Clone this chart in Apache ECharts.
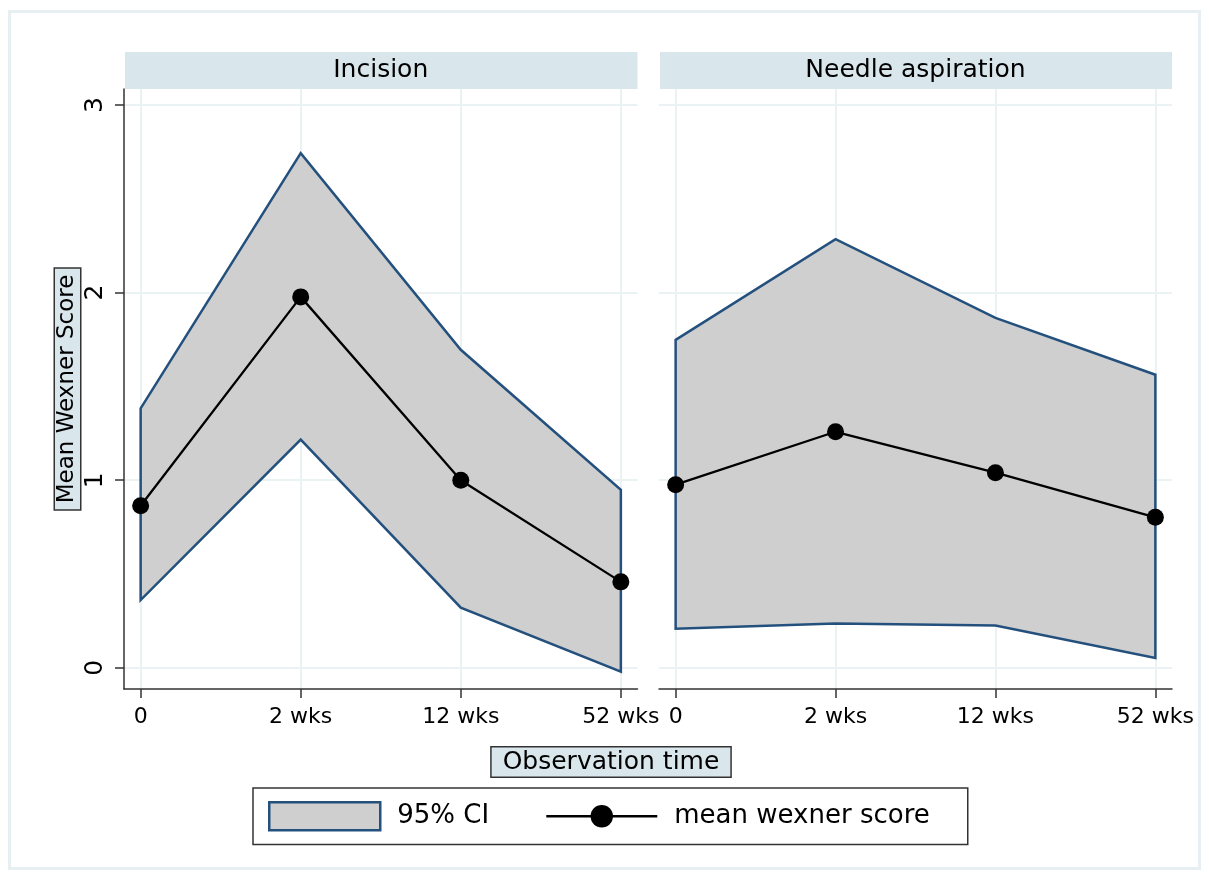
<!DOCTYPE html>
<html>
<head>
<meta charset="utf-8">
<script src="https://cdn.jsdelivr.net/npm/echarts@6/dist/echarts.min.js"></script>
<style>
  html, body { margin: 0; padding: 0; background: #ffffff; }
  #chart { width: 1209px; height: 878px; }
</style>
</head>
<body>
<div id="chart"></div>
<script>
// Observation times and panel titles
const timeLabels = ['0', '2 wks', '12 wks', '52 wks'];
const panelTitles = ['Incision', 'Needle aspiration'];
const yTicks = [0, 1, 2, 3];
const xTicks = [0, 1, 2, 3];

// Mean Wexner score with 95% confidence limits, per treatment group
const incisionMean  = [0.864, 1.977, 1.000, 0.458];
const incisionUpper = [1.383, 2.743, 1.695, 0.949];
const incisionLower = [0.361, 1.216, 0.321, -0.021];

const needleMean  = [0.976, 1.258, 1.040, 0.802];
const needleUpper = [1.748, 2.285, 1.865, 1.562];
const needleLower = [0.208, 0.236, 0.225, 0.053];

const FONT = 'DejaVu Sans';
const AXIS_COLOR = '#333333';
const GRID_COLOR = '#eaf2f3';
const STRIP_COLOR = '#d9e6eb';
const BAND_FILL = '#cfcfcf';
const BAND_EDGE = '#24507d';

const panels = [
  { mean: incisionMean, upper: incisionUpper, lower: incisionLower, left: 124, width: 513.5 },
  { mean: needleMean, upper: needleUpper, lower: needleLower, left: 659, width: 513 }
];

const GRID_TOP = 89;
const GRID_HEIGHT = 600;

// Closed CI polygon: upper limits left to right, then lower limits back
function bandRenderer(params, api) {
  if (params.dataIndexInside !== 0) return null;
  const n = params.dataInsideLength;
  const pts = [];
  for (let j = 0; j < n; j++) pts.push(api.coord([api.value(0, j), api.value(2, j)]));
  for (let j = n - 1; j >= 0; j--) pts.push(api.coord([api.value(0, j), api.value(1, j)]));
  return {
    type: 'polygon',
    shape: { points: pts },
    style: { fill: BAND_FILL, stroke: BAND_EDGE, lineWidth: 2.5, lineJoin: 'miter' }
  };
}

const grids = panels.map(p => ({ left: p.left, top: GRID_TOP, width: p.width, height: GRID_HEIGHT }));

const xAxes = panels.map((p, i) => ({
  type: 'value',
  gridIndex: i,
  min: -0.104,
  max: 3.104,
  axisLine: { show: true, onZero: false, lineStyle: { color: AXIS_COLOR, width: 1.5 } },
  axisTick: { show: true, length: 9, customValues: xTicks, lineStyle: { color: AXIS_COLOR, width: 1.5 } },
  axisLabel: {
    customValues: xTicks,
    formatter: v => timeLabels[Math.round(v)],
    fontFamily: FONT, fontSize: 22, color: '#000', margin: 17
  },
  splitLine: { show: true, lineStyle: { color: GRID_COLOR, width: 2 } }
}));

const yAxes = panels.map((p, i) => ({
  type: 'value',
  gridIndex: i,
  min: -0.113,
  max: 3.085,
  name: i === 0 ? 'Mean Wexner Score' : '',
  nameLocation: 'middle',
  nameGap: 44,
  nameTextStyle: {
    fontFamily: FONT, fontSize: 23, color: '#000',
    backgroundColor: STRIP_COLOR, borderColor: AXIS_COLOR, borderWidth: 1.5, padding: [1, 6]
  },
  axisLine: { show: i === 0, onZero: false, lineStyle: { color: AXIS_COLOR, width: 1.5 } },
  axisTick: { show: i === 0, length: 9, customValues: yTicks, lineStyle: { color: AXIS_COLOR, width: 1.5 } },
  axisLabel: {
    show: i === 0,
    customValues: yTicks,
    rotate: 90,
    fontFamily: FONT, fontSize: 25, color: '#000', margin: 16
  },
  splitLine: { show: true, lineStyle: { color: GRID_COLOR, width: 2 } }
}));

const series = [];
panels.forEach((p, i) => {
  series.push({
    name: '95% CI',
    type: 'custom',
    xAxisIndex: i,
    yAxisIndex: i,
    renderItem: bandRenderer,
    encode: { x: 0, y: [1, 2] },
    itemStyle: { color: BAND_FILL, borderColor: BAND_EDGE, borderWidth: 2.5 },
    data: timeLabels.map((_, j) => [j, p.lower[j], p.upper[j]]),
    z: 2,
    silent: true
  });
  series.push({
    name: 'mean wexner score',
    type: 'line',
    xAxisIndex: i,
    yAxisIndex: i,
    symbol: 'circle',
    symbolSize: 17,
    itemStyle: { color: '#000' },
    lineStyle: { color: '#000', width: 2.3 },
    data: timeLabels.map((_, j) => [j, p.mean[j]]),
    z: 3,
    silent: true
  });
});

const stripGraphics = [];
panels.forEach((p, i) => {
  stripGraphics.push({
    type: 'rect',
    shape: { x: p.left + 1, y: 52, width: p.width - 1, height: 37 },
    style: { fill: STRIP_COLOR }
  });
  stripGraphics.push({
    type: 'text',
    style: {
      text: panelTitles[i],
      x: p.left + p.width / 2, y: 70.5,
      align: 'center', verticalAlign: 'middle',
      fontFamily: FONT, fontSize: 25, fill: '#000'
    }
  });
});

const chart = echarts.init(document.getElementById('chart'), null, { renderer: 'canvas' });
chart.setOption({
  backgroundColor: '#ffffff',
  animation: false,
  grid: grids,
  xAxis: xAxes,
  yAxis: yAxes,
  series: series,
  legend: {
    left: 253,
    top: 788,
    orient: 'horizontal',
    itemWidth: 111,
    itemHeight: 28,
    itemGap: 56,
    padding: [13, 38, 13, 15],
    borderColor: AXIS_COLOR,
    borderWidth: 1.5,
    selectedMode: false,
    textStyle: { fontFamily: FONT, fontSize: 26, color: '#000', padding: [0, 0, 0, 12] },
    data: [
      { name: '95% CI', icon: 'rect', itemStyle: { color: BAND_FILL, borderColor: BAND_EDGE, borderWidth: 2.5 } },
      { name: 'mean wexner score', lineStyle: { width: 2.3 } }
    ]
  },
  graphic: [
    {
      type: 'rect',
      shape: { x: 9.5, y: 11.5, width: 1190, height: 857 },
      style: { fill: 'none', stroke: '#e8eff2', lineWidth: 3 },
      z: -10
    },
    ...stripGraphics,
    {
      type: 'text',
      style: {
        text: 'Observation time',
        x: 611, y: 762,
        align: 'center', verticalAlign: 'middle',
        fontFamily: FONT, fontSize: 25, fill: '#000',
        backgroundColor: STRIP_COLOR, borderColor: AXIS_COLOR, borderWidth: 1.5,
        padding: [2, 11]
      }
    }
  ]
});
</script>
</body>
</html>
